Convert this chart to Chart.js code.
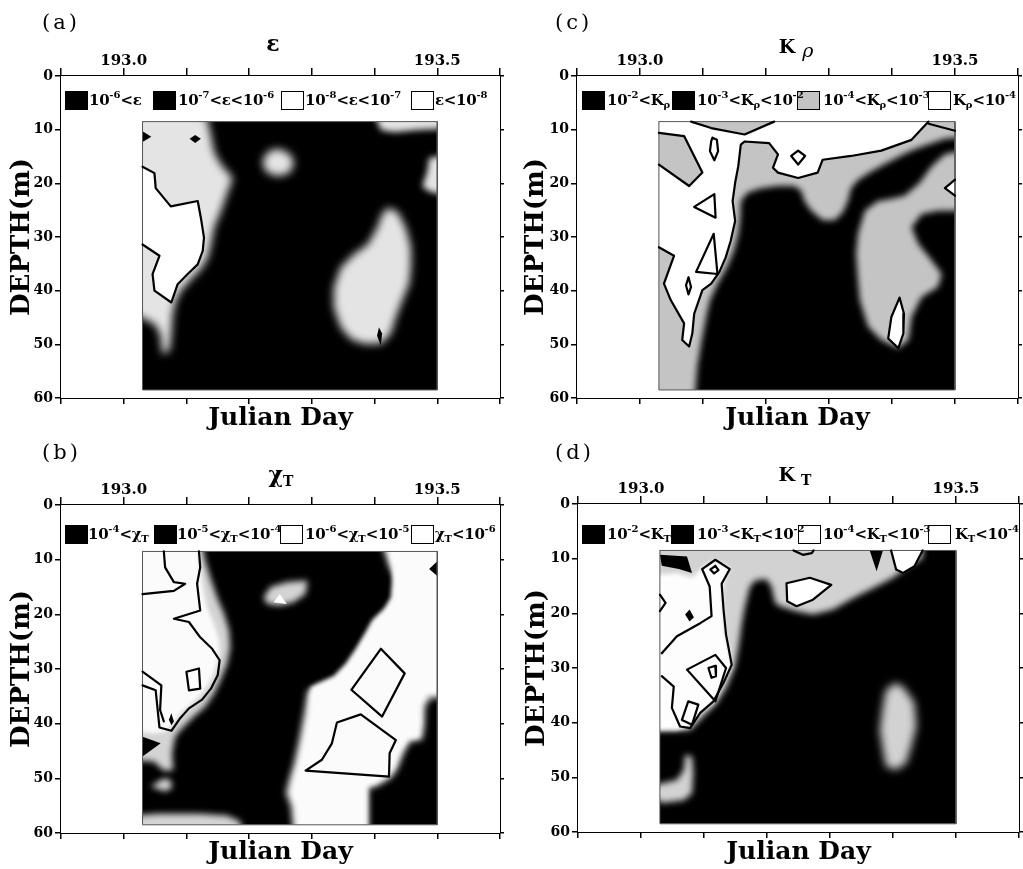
<!DOCTYPE html>
<html>
<head>
<meta charset="utf-8">
<title>Microstructure sections, Julian Day 193</title>
<script src="https://cdn.jsdelivr.net/npm/chart.js@4.4.1/dist/chart.umd.min.js"></script>
<style>
  html, body { margin: 0; padding: 0; background: #fff; }
  #figure { position: relative; width: 1023px; height: 869px; overflow: hidden; background: #fff; color: #000; font-family: 'DejaVu Serif', serif; }
  #figure canvas { position: absolute; }
  .tag { position: absolute; font-size: 21px; line-height: 21px; letter-spacing: 3px; z-index: 2; }
  .head { position: absolute; width: 100px; text-align: center; font-weight: bold; line-height: 1; white-space: nowrap; z-index: 2; }
  .head sub { font-size: 14px; line-height: 0; vertical-align: 0; position: relative; top: 4px; }
  .key { position: absolute; height: 19px; line-height: 19px; font-size: 15px; letter-spacing: -0.3px; font-weight: bold; white-space: nowrap; z-index: 3; }
  .key sup { font-size: 10px; line-height: 0; vertical-align: 0; position: relative; top: -7px; letter-spacing: 0; }
  .key sub { font-size: 10px; line-height: 0; vertical-align: 0; position: relative; top: 3px; letter-spacing: 0; }
  .chip { position: absolute; width: 23px; height: 19px; box-sizing: border-box; z-index: 2; }
</style>
</head>
<body>
<div id="figure"></div>
<script>
// ---- axes ----
const dayRange = [192.9, 193.6];
const depthRange = [0, 60];
const dayTickLabels = ['193.0', '193.5'];
const sampledDays = [193.03, 193.50];
const sampledDepths = [8.5, 58.5];

// ---- (a) epsilon: [Julian day, depth m] outlines of each class ----
const epsStippleLeft = [[193.03,8.5],[193.128,8.5],[193.139,11.0],[193.144,14.1],[193.155,16.5],[193.174,19.0],[193.166,21.5],[193.155,25.2],[193.144,28.3],[193.139,31.4],[193.134,33.8],[193.123,36.0],[193.110,37.5],[193.091,40.0],[193.083,41.9],[193.078,44.3],[193.076,48.0],[193.073,51.1],[193.062,51.9],[193.058,48.0],[193.049,46.2],[193.03,43.4]];
const epsQuietLeft = [[193.03,16.9],[193.049,18.1],[193.051,20.9],[193.075,24.3],[193.118,23.3],[193.123,26.4],[193.128,30.1],[193.126,32.6],[193.118,35.1],[193.102,36.9],[193.086,38.8],[193.076,42.2],[193.049,40.0],[193.046,36.9],[193.057,33.5],[193.03,31.4]];
const epsBlobTop = [[193.245,13.5],[193.264,14.4],[193.272,16.2],[193.264,18.1],[193.245,18.7],[193.227,17.9],[193.221,16.0],[193.229,14.2]];
const epsTopRight = [[193.394,8.5],[193.5,8.5],[193.5,9.75],[193.468,10.06],[193.431,10.5],[193.410,10.06]];
const epsRightEdge = [[193.5,14.4],[193.487,15.3],[193.484,17.8],[193.476,20.6],[193.487,21.5],[193.5,22.7]];
const epsBlobRight = [[193.420,24.6],[193.436,25.2],[193.450,28.3],[193.458,32.0],[193.458,35.7],[193.455,38.8],[193.444,41.9],[193.434,44.9],[193.426,48.0],[193.410,49.9],[193.383,49.9],[193.362,49.0],[193.346,46.8],[193.335,43.1],[193.335,39.4],[193.346,35.7],[193.367,33.2],[193.389,31.4],[193.404,28.3],[193.412,25.8]];
const epsDotLeft = [[193.03,10.3],[193.044,11.3],[193.03,12.3]];
const epsDotRing = [[193.105,11.7],[193.114,11.0],[193.123,11.7],[193.114,12.5]];
const epsDotRight = [[193.407,46.8],[193.412,48.0],[193.410,50.2],[193.404,48.4]];

// ---- (b) chi_T ----
const chiStippleLeft = [[193.03,8.5],[193.122,8.5],[193.130,10.2],[193.138,13.2],[193.149,16.9],[193.160,19.9],[193.168,22.9],[193.170,26.0],[193.165,29.0],[193.154,32.1],[193.144,34.5],[193.130,36.9],[193.112,38.7],[193.093,40.9],[193.082,42.4],[193.077,45.4],[193.079,48.5],[193.064,48.6],[193.048,46.9],[193.03,46.6]];
const chiQuietLeft = [[193.03,8.5],[193.117,8.5],[193.122,11.4],[193.127,15.7],[193.133,18.7],[193.144,21.7],[193.152,24.8],[193.153,27.2],[193.146,30.2],[193.136,32.7],[193.122,34.8],[193.106,36.6],[193.090,38.1],[193.080,40.0],[193.066,41.5],[193.048,41.8],[193.03,41.2]];
const chiDarkWedge = [[193.03,42.4],[193.059,43.6],[193.03,46.0]];
const chiBlobLow = [[193.043,51.5],[193.064,50.0],[193.075,50.3],[193.077,51.8],[193.066,52.4]];
const chiBottomStrip = [[193.03,57.0],[193.053,56.5],[193.122,56.5],[193.165,56.8],[193.186,57.9],[193.189,58.5],[193.03,58.5]];
const chiBlobTop = [[193.223,16.9],[193.234,15.0],[193.261,14.1],[193.293,13.8],[193.290,16.3],[193.271,17.8],[193.250,18.4],[193.229,18.1]];
const chiHoleTop = [[193.239,17.8],[193.249,16.3],[193.260,18.1]];
const chiStippleRight = [[193.407,8.5],[193.423,11.4],[193.436,13.8],[193.434,17.2],[193.423,19.3],[193.404,21.4],[193.394,23.5],[193.378,26.6],[193.362,29.6],[193.340,32.1],[193.314,33.3],[193.293,33.9],[193.287,38.1],[193.279,43.0],[193.271,47.2],[193.263,50.3],[193.258,52.7],[193.266,55.1],[193.270,58.5],[193.391,58.5],[193.391,51.8],[193.404,51.5],[193.426,50.0],[193.436,48.5],[193.447,45.4],[193.457,43.3],[193.476,43.0],[193.480,40.6],[193.481,36.9],[193.489,35.4],[193.5,35.1],[193.5,8.5]];
const chiQuietRight = [[193.415,8.5],[193.428,11.4],[193.428,13.8],[193.426,16.9],[193.415,19.0],[193.396,21.1],[193.386,23.2],[193.370,26.3],[193.354,29.0],[193.335,31.3],[193.311,32.5],[193.298,33.3],[193.295,38.1],[193.287,43.0],[193.279,47.2],[193.271,50.3],[193.267,52.7],[193.274,55.1],[193.277,58.5],[193.388,58.5],[193.388,51.5],[193.402,50.9],[193.420,49.6],[193.431,48.0],[193.441,45.1],[193.453,42.9],[193.471,42.5],[193.473,40.3],[193.474,36.6],[193.484,34.6],[193.5,34.2],[193.5,8.5]];
const chiDarkSpotRight = [[193.487,11.7],[193.5,10.3],[193.5,13.0]];
const chiDrop = [[193.072,39.3],[193.076,38.1],[193.080,39.6],[193.076,40.3]];
const chiLineA = [[193.064,8.5],[193.066,11.4],[193.080,14.1],[193.098,14.4],[193.080,15.7],[193.03,16.3]];
const chiLineB = [[193.120,8.5],[193.122,11.4],[193.117,14.4],[193.122,19.3],[193.080,20.8],[193.104,21.4],[193.122,24.2],[193.141,26.3],[193.153,28.4],[193.150,31.1],[193.139,33.6],[193.125,35.6],[193.104,37.2],[193.090,39.0],[193.076,41.3],[193.057,40.7],[193.051,33.9],[193.03,33.0]];
const chiLineC = [[193.03,30.5],[193.060,33.0],[193.058,37.5],[193.064,39.6]];
const chiBox = [[193.100,30.5],[193.120,29.9],[193.122,33.6],[193.104,33.9],[193.100,30.5]];
const chiQuad = [[193.363,33.8],[193.410,26.3],[193.448,30.8],[193.412,38.7],[193.363,33.8]];
const chiPent = [[193.340,39.8],[193.378,38.3],[193.434,43.0],[193.424,45.4],[193.423,49.7],[193.290,48.6],[193.316,46.6],[193.332,43.6],[193.340,39.8]];

// ---- (c) K_rho ----
const krhoStippleMain = [[193.03,8.5],[193.5,8.5],[193.5,11.2],[193.484,11.7],[193.458,12.7],[193.431,13.9],[193.410,15.1],[193.389,16.4],[193.367,17.8],[193.346,19.4],[193.335,20.9],[193.330,23.3],[193.322,25.4],[193.309,26.9],[193.290,26.9],[193.272,25.1],[193.261,23.3],[193.256,21.4],[193.245,20.5],[193.219,20.5],[193.192,20.9],[193.171,21.7],[193.160,23.3],[193.159,26.4],[193.156,29.4],[193.149,32.5],[193.138,35.6],[193.123,38.7],[193.111,41.8],[193.105,44.9],[193.098,49.2],[193.091,54.1],[193.087,58.5],[193.03,58.5]];
const krhoStippleRight = [[193.5,13.4],[193.484,14.6],[193.463,16.8],[193.444,19.9],[193.420,22.3],[193.394,23.0],[193.378,23.3],[193.357,25.1],[193.346,29.4],[193.343,33.1],[193.346,38.1],[193.349,41.8],[193.362,46.7],[193.383,49.2],[193.410,50.7],[193.426,49.2],[193.431,44.9],[193.447,41.2],[193.473,39.3],[193.479,36.9],[193.463,34.4],[193.442,31.3],[193.431,28.2],[193.447,25.7],[193.473,25.1],[193.5,25.1]];
const krhoQuiet = [[193.03,8.5],[193.081,8.5],[193.113,9.7],[193.166,10.9],[193.213,8.5],[193.458,8.5],[193.431,11.9],[193.383,13.9],[193.335,14.9],[193.290,15.6],[193.282,18.0],[193.251,19.0],[193.219,18.0],[193.211,17.1],[193.219,14.6],[193.205,12.5],[193.166,12.2],[193.160,12.8],[193.156,16.8],[193.151,19.9],[193.147,23.3],[193.151,27.0],[193.144,30.7],[193.136,33.8],[193.126,36.5],[193.113,38.7],[193.099,39.9],[193.086,44.3],[193.083,48.0],[193.078,50.4],[193.067,49.2],[193.070,46.1],[193.049,41.8],[193.038,38.7],[193.054,33.5],[193.03,31.9]];
const krhoIsland = [[193.03,10.6],[193.070,11.2],[193.099,18.0],[193.078,20.5],[193.03,16.5]];
const krhoOval = [[193.115,11.5],[193.122,11.9],[193.124,14.0],[193.118,15.7],[193.111,14.0],[193.113,12.2],[193.115,11.5]];
const krhoDiamond = [[193.240,14.9],[193.251,13.9],[193.262,14.9],[193.251,16.5],[193.240,14.9]];
const krhoTriUpper = [[193.086,24.4],[193.118,22.0],[193.120,26.4],[193.086,24.4]];
const krhoTriLower = [[193.089,36.5],[193.117,29.4],[193.123,36.9],[193.089,36.5]];
const krhoOvalLow = [[193.073,39.0],[193.077,37.5],[193.081,39.3],[193.077,40.7],[193.073,39.0]];
const krhoTriRight = [[193.5,19.3],[193.484,20.9],[193.5,22.3]];
const krhoPocket = [[193.412,41.3],[193.419,44.3],[193.418,48.0],[193.410,50.7],[193.394,48.9],[193.399,44.9],[193.412,41.3]];
const krhoCornerLine = [[193.458,8.9],[193.5,10.2]];

// ---- (d) K_T ----
const ktStipple = [[193.03,8.5],[193.447,8.5],[193.447,9.9],[193.421,11.7],[193.400,13.5],[193.368,15.4],[193.337,17.2],[193.305,19.3],[193.273,20.2],[193.247,19.6],[193.221,18.7],[193.213,18.1],[193.207,15.1],[193.199,13.7],[193.181,14.0],[193.173,15.1],[193.165,18.7],[193.160,21.8],[193.155,26.0],[193.149,29.7],[193.136,33.4],[193.120,36.4],[193.099,38.8],[193.078,41.3],[193.03,41.6]];
const ktQuiet = [[193.03,13.2],[193.057,12.6],[193.081,13.5],[193.097,11.7],[193.118,10.2],[193.141,11.7],[193.131,14.5],[193.130,18.7],[193.133,23.6],[193.141,27.3],[193.144,29.7],[193.131,32.7],[193.115,36.4],[193.094,38.2],[193.078,40.7],[193.057,41.4],[193.03,41.3]];
const ktDarkCorner = [[193.03,9.3],[193.073,9.6],[193.081,12.6],[193.060,11.9],[193.033,11.3]];
const ktDarkDot = [[193.070,20.2],[193.077,19.3],[193.084,20.7],[193.077,21.5]];
const ktDarkTri = [[193.363,8.5],[193.384,8.5],[193.374,12.3]];
const ktBlob = [[193.405,32.7],[193.418,33.7],[193.434,36.4],[193.437,40.7],[193.429,44.3],[193.421,47.4],[193.405,48.6],[193.389,48.0],[193.384,44.9],[193.379,41.3],[193.384,37.0],[193.389,34.0]];
const ktBlobLow = [[193.03,52.0],[193.057,50.5],[193.068,48.6],[193.070,45.9],[193.081,46.2],[193.083,49.2],[193.081,52.9],[193.068,54.2],[193.033,54.7]];
const ktLine = [[193.033,27.3],[193.057,24.2],[193.094,21.8],[193.112,20.5],[193.109,15.1],[193.097,11.9],[193.118,10.2],[193.141,11.9],[193.128,14.6],[193.131,19.3],[193.135,23.9],[193.144,29.4],[193.131,32.7],[193.115,36.1],[193.094,38.2],[193.078,41.0],[193.062,40.7],[193.049,37.3],[193.052,33.4],[193.033,31.5]];
const ktDiamond = [[193.110,12.0],[193.118,11.3],[193.123,12.1],[193.116,12.7],[193.110,12.0]];
const ktQuad = [[193.073,30.3],[193.118,27.6],[193.135,30.0],[193.118,36.1],[193.073,30.3]];
const ktInner = [[193.107,30.0],[193.118,29.6],[193.119,31.5],[193.112,31.8],[193.107,30.0]];
const ktBox = [[193.065,39.5],[193.075,36.1],[193.091,36.7],[193.081,40.4],[193.065,39.5]];
const ktBump = [[193.03,16.6],[193.039,18.1],[193.03,19.6]];
const ktPent = [[193.231,14.5],[193.268,13.5],[193.302,14.8],[193.273,17.5],[193.247,18.7],[193.232,17.8],[193.231,14.5]];
const ktCup = [[193.397,8.5],[193.405,12.0],[193.416,12.6],[193.434,11.4],[193.447,8.5]];
const ktNotch = [[193.242,8.5],[193.257,9.3],[193.271,9.0],[193.274,8.5]];

// ---- legend texts ----
const epsLegend = ['10<sup>-6</sup>&lt;ε', '10<sup>-7</sup>&lt;ε&lt;10<sup>-6</sup>', '10<sup>-8</sup>&lt;ε&lt;10<sup>-7</sup>', 'ε&lt;10<sup>-8</sup>'];
const chiLegend = ['10<sup>-4</sup>&lt;χ<sub>T</sub>', '10<sup>-5</sup>&lt;χ<sub>T</sub>&lt;10<sup>-4</sup>', '10<sup>-6</sup>&lt;χ<sub>T</sub>&lt;10<sup>-5</sup>', 'χ<sub>T</sub>&lt;10<sup>-6</sup>'];
const krhoLegend = ['10<sup>-2</sup>&lt;K<sub>ρ</sub>', '10<sup>-3</sup>&lt;K<sub>ρ</sub>&lt;10<sup>-2</sup>', '10<sup>-4</sup>&lt;K<sub>ρ</sub>&lt;10<sup>-3</sup>', 'K<sub>ρ</sub>&lt;10<sup>-4</sup>'];
const ktLegend = ['10<sup>-2</sup>&lt;K<sub>T</sub>', '10<sup>-3</sup>&lt;K<sub>T</sub>&lt;10<sup>-2</sup>', '10<sup>-4</sup>&lt;K<sub>T</sub>&lt;10<sup>-3</sup>', 'K<sub>T</sub>&lt;10<sup>-4</sup>'];

// ---- drawing ----
const tone = {
  black: '#000000', white: '#ffffff',
  stippleA: '#e4e4e4', stippleB: '#d4d4d4', quietB: '#fbfbfb',
  stippleC: '#c4c4c4', stippleD: '#d2d2d2', quietD: '#fdfdfd'
};

const [X0, X1] = sampledDays;
const [D0, D1] = sampledDepths;
const frameCorners = [[X0,D0],[X1,D0],[X1,D1],[X0,D1],[X0,D0]];
const maskRing = [[dayRange[0],depthRange[0]],[dayRange[1],depthRange[0]],[dayRange[1],depthRange[1]],[dayRange[0],depthRange[1]],[dayRange[0],depthRange[0]],
                  [X0,D0],[X0,D1],[X1,D1],[X1,D0],[X0,D0]];

// blurred fills are pushed past the sampled frame so their soft rim stays outside it
function padOut([x, y]) {
  if (x <= X0 + 1e-6) x = X0 - 0.03; else if (x >= X1 - 1e-6) x = X1 + 0.03;
  if (y <= D0 + 1e-6) y = D0 - 3; else if (y >= D1 - 1e-6) y = D1 + 1.4;
  return [x, y];
}
const toXY = pts => pts.map(([x, y]) => ({ x, y }));

function region(pts, color, blur) {
  return { data: toXY(blur ? pts.map(padOut) : pts), fill: 'shape', backgroundColor: color,
           borderColor: 'rgba(0,0,0,0)', borderWidth: 0, pointRadius: 0, tension: 0, edgeBlur: blur || 0 };
}
function contour(pts, width, color) {
  return { data: toXY(pts), fill: false, borderColor: color || '#000', borderWidth: width || 2.2,
           borderJoinStyle: 'round', borderCapStyle: 'round', pointRadius: 0, tension: 0 };
}

// blur is switched on just before a soft dataset's fill is painted, and off before its line
const softEdges = {
  id: 'softEdges',
  beforeDatasetsDraw(chart) {
    const first = chart.data.datasets[0];
    chart.ctx.filter = first && first.edgeBlur ? `blur(${first.edgeBlur}px)` : 'none';
  },
  beforeDatasetDraw(chart) { chart.ctx.filter = 'none'; },
  afterDatasetDraw(chart, args) {
    const next = chart.data.datasets[args.index + 1];
    chart.ctx.filter = next && next.edgeBlur ? `blur(${next.edgeBlur}px)` : 'none';
  },
  afterDatasetsDraw(chart) { chart.ctx.filter = 'none'; }
};

Chart.defaults.font.family = "'DejaVu Serif', serif";
Chart.defaults.font.weight = 'bold';
Chart.defaults.color = '#000';

function axes(box, pads) {
  const tickGrid = len => ({ drawOnChartArea: false, drawTicks: true, tickLength: len, color: '#000', lineWidth: 1.5 });
  const edge = { display: true, color: '#000', width: 2 };
  const dayAxis = { type: 'linear', min: dayRange[0], max: dayRange[1], border: edge };
  const depthAxis = { type: 'linear', reverse: true, min: depthRange[0], max: depthRange[1], border: edge };
  return {
    x: Object.assign({}, dayAxis, {
      position: 'top',
      ticks: { stepSize: 0.1, autoSkip: false, maxRotation: 0, padding: -2, font: { size: 15 },
               callback: v => { const s = Number(v).toFixed(1); return dayTickLabels.includes(s) ? s : ''; } },
      grid: tickGrid(8), afterFit: s => { s.height = box.top; } }),
    xb: Object.assign({}, dayAxis, {
      position: 'bottom',
      ticks: { stepSize: 0.1, autoSkip: false, maxRotation: 0, callback: () => '' },
      grid: tickGrid(6),
      title: { display: true, text: 'Julian Day', font: { size: 25 }, padding: { top: 0, bottom: pads.day } },
      afterFit: s => { s.height = box.bottom; } }),
    y: Object.assign({}, depthAxis, {
      position: 'left',
      ticks: { stepSize: 10, padding: 2, font: { size: 14 } },
      grid: tickGrid(6),
      title: { display: true, text: 'DEPTH(m)', font: { size: 26 }, padding: { top: pads.depth, bottom: 0 } },
      afterFit: s => { s.width = box.left; } }),
    yr: Object.assign({}, depthAxis, {
      position: 'right',
      ticks: { stepSize: 10, callback: () => '' },
      grid: tickGrid(4), afterFit: s => { s.width = box.right; } })
  };
}

const fig = document.getElementById('figure');
function put(cls, html, css) {
  const el = document.createElement('div');
  el.className = cls; el.innerHTML = html; Object.assign(el.style, css);
  fig.appendChild(el);
  return el;
}

const panels = [
  { tag: '(a)', head: 'ε', headSize: 22,
    at: { left: 0, top: 0 }, box: { left: 61, right: 11, top: 76, bottom: 35 }, pads: { depth: 6.4, day: 0 },
    base: tone.black,
    layers: [[epsStippleLeft, tone.stippleA, 4], [epsQuietLeft, tone.white, 0], [epsBlobTop, tone.stippleA, 4],
             [epsTopRight, tone.stippleA, 3], [epsRightEdge, tone.stippleA, 3], [epsBlobRight, tone.stippleA, 4],
             [epsDotLeft, tone.black, 0], [epsDotRing, tone.black, 0], [epsDotRight, tone.black, 0]],
    lines: [epsQuietLeft],
    legend: epsLegend, chips: [tone.black, tone.black, tone.white, tone.white],
    marks: { tagX: 42, tagY: 12, headX: 273, headY: 32, keyY: 91, chipX: [65,153,281,411], keyX: [89,178,305,435] } },
  { tag: '(c)', head: 'K<span style="font-style:italic;font-weight:normal;position:relative;top:4px;margin-left:7px">ρ</span>', headSize: 19,
    at: { left: 512, top: 0 }, box: { left: 65, right: 5, top: 76, bottom: 35 }, pads: { depth: 8.4, day: 0 },
    base: tone.black,
    layers: [[krhoStippleMain, tone.stippleC, 3], [krhoStippleRight, tone.stippleC, 3], [krhoQuiet, tone.white, 0],
             [krhoIsland, tone.stippleC, 0], [krhoOval, tone.white, 0], [krhoDiamond, tone.white, 0],
             [krhoTriUpper, tone.white, 0], [krhoTriLower, tone.white, 0], [krhoOvalLow, tone.white, 0],
             [krhoTriRight, tone.white, 0], [krhoPocket, tone.white, 0]],
    lines: [krhoQuiet.slice(5), krhoQuiet.slice(1, 5), krhoIsland, krhoOval, krhoDiamond, krhoTriUpper,
            krhoTriLower, krhoOvalLow, krhoTriRight, krhoPocket, krhoCornerLine],
    legend: krhoLegend, chips: [tone.black, tone.black, tone.stippleC, tone.white],
    marks: { tagX: 555, tagY: 12, headX: 796, headY: 37, keyY: 91, chipX: [582,672,797,928], keyX: [607,697,823,953] } },
  { tag: '(b)', head: 'χ<sub>T</sub>', headSize: 22,
    at: { left: 0, top: 436 }, box: { left: 61, right: 11, top: 69, bottom: 36 }, pads: { depth: 6.4, day: 2 },
    base: tone.black,
    layers: [[chiStippleLeft, tone.stippleB, 3], [chiQuietLeft, tone.quietB, 2], [chiDarkWedge, tone.black, 0],
             [chiBlobLow, tone.stippleB, 3], [chiBottomStrip, tone.stippleB, 3], [chiBlobTop, tone.stippleB, 3],
             [chiHoleTop, tone.white, 0], [chiStippleRight, tone.stippleB, 3], [chiQuietRight, tone.quietB, 2],
             [chiDarkSpotRight, tone.black, 0], [chiDrop, tone.black, 0]],
    lines: [chiLineA, chiLineB, chiLineC, chiBox, chiQuad, chiPent],
    legend: chiLegend, chips: [tone.black, tone.black, tone.white, tone.white],
    marks: { tagX: 42, tagY: 442, headX: 281, headY: 463, keyY: 525, chipX: [65,154,280,411], keyX: [88,177,305,435] } },
  { tag: '(d)', head: 'K<sub style="margin-left:6px">T</sub>', headSize: 19,
    at: { left: 512, top: 436 }, box: { left: 66, right: 4, top: 68, bottom: 37 }, pads: { depth: 9.9, day: 2 },
    base: tone.black,
    layers: [[ktStipple, tone.stippleD, 3], [ktQuiet, tone.quietD, 2], [ktDarkCorner, tone.black, 0],
             [ktDarkDot, tone.black, 0], [ktDarkTri, tone.black, 0], [ktBlob, tone.stippleD, 4],
             [ktBlobLow, tone.stippleD, 3], [ktPent, tone.white, 0], [ktCup, tone.white, 0]],
    lines: [ktLine, ktDiamond, ktQuad, ktInner, ktBox, ktBump, ktPent, ktCup, ktNotch],
    legend: ktLegend, chips: [tone.black, tone.black, tone.white, tone.white],
    marks: { tagX: 555, tagY: 442, headX: 795, headY: 465, keyY: 525, chipX: [582,671,798,928], keyX: [607,697,823,955] } }
];

panels.forEach(p => {
  const cv = document.createElement('canvas');
  cv.width = 511; cv.height = 433;
  cv.style.left = p.at.left + 'px'; cv.style.top = p.at.top + 'px';
  fig.appendChild(cv);

  const sets = [region(frameCorners, p.base, 0)];
  p.layers.forEach(([pts, color, blur]) => sets.push(region(pts, color, blur)));
  sets.push(region(maskRing, tone.white, 0));
  sets.push(contour(frameCorners, 1, '#555'));
  p.lines.forEach(pts => sets.push(contour(pts)));
  sets.forEach((d, i) => { d.order = sets.length - i; });

  new Chart(cv, {
    type: 'line',
    data: { datasets: sets },
    options: {
      responsive: false, animation: false, devicePixelRatio: 1, events: [],
      layout: { padding: 0, autoPadding: false },
      plugins: { legend: { display: false }, tooltip: { enabled: false }, title: { display: false } },
      scales: axes(p.box, p.pads)
    },
    plugins: [softEdges]
  });

  const m = p.marks;
  put('tag', p.tag, { left: m.tagX + 'px', top: m.tagY + 'px' });
  put('head', p.head, { left: (m.headX - 50) + 'px', top: m.headY + 'px', fontSize: p.headSize + 'px' });
  p.legend.forEach((txt, i) => {
    const chip = put('chip', '', { left: m.chipX[i] + 'px', top: m.keyY + 'px', background: p.chips[i] });
    if (p.chips[i] !== tone.black) chip.style.border = '1.5px solid #000';
    put('key', txt, { left: m.keyX[i] + 'px', top: m.keyY + 'px' });
  });
});
</script>
</body>
</html>
